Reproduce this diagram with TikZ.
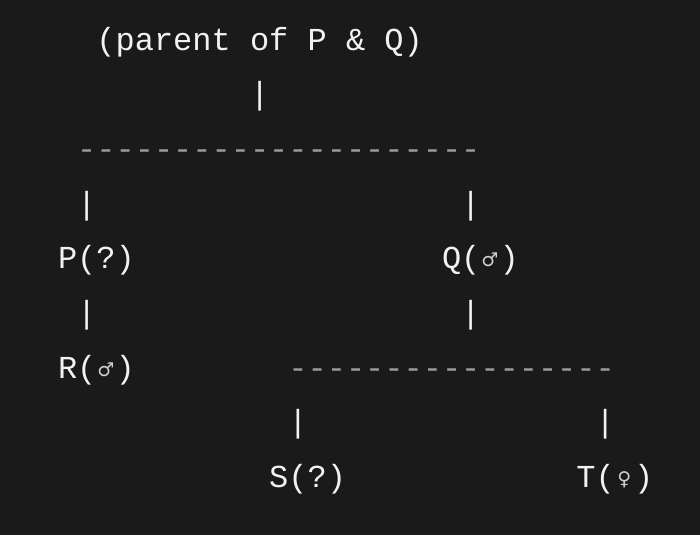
\documentclass[tikz,border=0pt]{standalone}
\usepackage{fontspec}
\setmonofont{Liberation Mono}
\newfontfamily\symfont{DejaVu Sans}
\definecolor{bgc}{HTML}{1A1A1A}
\definecolor{txtc}{HTML}{F2F2F2}
\definecolor{dashc}{HTML}{9A9A9A}
\definecolor{symc}{HTML}{D0D0D0}
\newcommand{\gsym}[1]{\makebox[19.2pt][c]{\raisebox{2pt}{\fontsize{19}{19}\symfont\color{symc}#1}}}
\tikzset{
  tok/.style={anchor=base west, inner sep=0pt, outer sep=0pt, text=txtc,
    font=\fontsize{32}{32}\selectfont\ttfamily},
  dsh/.style={tok, text=dashc},
}
\begin{document}
\begin{tikzpicture}[x=1pt,y=1pt]
\fill[bgc] (0,0) rectangle (700,-535);
\useasboundingbox (0,0) rectangle (700,-535);
\def\cx#1{58+19.2*#1}
\def\ry#1{-50-54.7*(#1-1)}
% row 1
\node[tok] (top) at ({\cx{2}},{\ry{1}}) {(parent of P \& Q)};
% row 2
\node[tok] (v0) at ({\cx{10}},{\ry{2}}) {|};
% row 3 dashes
\foreach \c in {1,...,21} \node[dsh] (da\c) at ({\cx{\c}},{\ry{3}}) {-};
% row 4
\node[tok] (v1) at ({\cx{1}},{\ry{4}}) {|};
\node[tok] (v2) at ({\cx{21}},{\ry{4}}) {|};
% row 5
\node[tok] (P) at ({\cx{0}},{\ry{5}}) {P(?)};
\node[tok] (Q) at ({\cx{20}},{\ry{5}}) {Q(\gsym{♂})};
% row 6
\node[tok] (v3) at ({\cx{1}},{\ry{6}}) {|};
\node[tok] (v4) at ({\cx{21}},{\ry{6}}) {|};
% row 7
\node[tok] (R) at ({\cx{0}},{\ry{7}}) {R(\gsym{♂})};
\foreach \c in {12,...,28} \node[dsh] (db\c) at ({\cx{\c}},{\ry{7}}) {-};
% row 8
\node[tok] (v5) at ({\cx{12}},{\ry{8}}) {|};
\node[tok] (v6) at ({\cx{28}},{\ry{8}}) {|};
% row 9
\node[tok] (S) at ({\cx{11}},{\ry{9}}) {S(?)};
\node[tok] (T) at ({\cx{27}},{\ry{9}}) {T(\gsym{♀})};
\end{tikzpicture}
\end{document}
